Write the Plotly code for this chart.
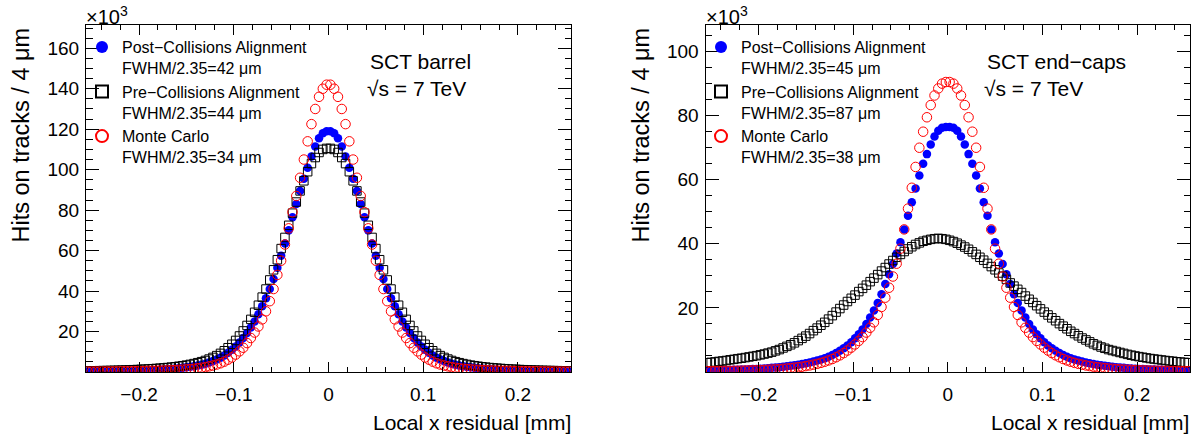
import plotly.graph_objects as go

# ---------------- data (thousands of hits per 4 um bin) ----------------
BIN_LO = -0.256   # mm, lower edge of first bin
BIN_W = 0.004     # mm, 4 um bins
N_BINS = 128
x_centers = [round(BIN_LO + BIN_W * (i + 0.5), 4) for i in range(N_BINS)]

barrel_post = [0.29, 0.31, 0.33, 0.35, 0.37, 0.39, 0.42, 0.45, 0.48, 0.51, 0.55, 0.59, 0.64, 0.69, 0.75, 0.81,
               0.88, 0.96, 1.05, 1.15, 1.26, 1.38, 1.52, 1.67, 1.85, 2.05, 2.3, 2.55, 2.85, 3.2, 3.6, 4.1,
               4.7, 5.4, 6.2, 7.1, 8.2, 9.5, 11, 12.6, 14.6, 16.8, 19.3, 22, 25, 28.5, 32.5, 36.5,
               41, 46, 51.5, 57.5, 63.5, 70, 76.5, 83, 89.5, 95.5, 101, 106.5, 111.5, 115.5, 118, 119,
               119, 118, 115.5, 111.5, 106.5, 101, 95.5, 89.5, 83, 76.5, 70, 63.5, 57.5, 51.5, 46, 41,
               36.5, 32.5, 28.5, 25, 22, 19.3, 16.8, 14.6, 12.6, 11, 9.5, 8.2, 7.1, 6.2, 5.4, 4.7,
               4.1, 3.6, 3.2, 2.85, 2.55, 2.3, 2.05, 1.85, 1.67, 1.52, 1.38, 1.26, 1.15, 1.05, 0.96, 0.88,
               0.81, 0.75, 0.69, 0.64, 0.59, 0.55, 0.51, 0.48, 0.45, 0.42, 0.39, 0.37, 0.35, 0.33, 0.31, 0.29]

barrel_pre = [0.56, 0.59, 0.62, 0.65, 0.69, 0.73, 0.77, 0.82, 0.87, 0.93, 0.99, 1.06, 1.13, 1.21, 1.3, 1.4,
              1.5, 1.62, 1.75, 1.9, 2.05, 2.2, 2.4, 2.6, 2.85, 3.1, 3.4, 3.75, 4.15, 4.6, 5.1, 5.7,
              6.4, 7.2, 8.1, 9.2, 10.5, 12, 13.7, 15.6, 17.8, 20.3, 23, 26, 29.5, 33, 37, 41,
              45.5, 50.5, 55.5, 61, 66.5, 72.5, 78.5, 84, 89.5, 94.5, 99, 103, 106, 108.5, 110, 110.5,
              110.5, 110, 108.5, 106, 103, 99, 94.5, 89.5, 84, 78.5, 72.5, 66.5, 61, 55.5, 50.5, 45.5,
              41, 37, 33, 29.5, 26, 23, 20.3, 17.8, 15.6, 13.7, 12, 10.5, 9.2, 8.1, 7.2, 6.4,
              5.7, 5.1, 4.6, 4.15, 3.75, 3.4, 3.1, 2.85, 2.6, 2.4, 2.2, 2.05, 1.9, 1.75, 1.62, 1.5,
              1.4, 1.3, 1.21, 1.13, 1.06, 0.99, 0.93, 0.87, 0.82, 0.77, 0.73, 0.69, 0.65, 0.62, 0.59, 0.56]

barrel_mc = [0.2, 0.21, 0.22, 0.23, 0.24, 0.26, 0.27, 0.29, 0.31, 0.33, 0.35, 0.37, 0.4, 0.43, 0.46, 0.49,
             0.53, 0.57, 0.62, 0.67, 0.73, 0.8, 0.87, 0.95, 1.05, 1.15, 1.3, 1.45, 1.6, 1.85, 2.1, 2.4,
             2.8, 3.2, 3.7, 4.3, 5.1, 6.1, 7.2, 8.6, 10.2, 12, 14.3, 16.8, 19.5, 22.5, 26, 30,
             35, 41, 48, 55, 63, 71, 79, 87, 96, 105, 114, 122.5, 130, 136, 140, 142,
             142, 140, 136, 130, 122.5, 114, 105, 96, 87, 79, 71, 63, 55, 48, 41, 35,
             30, 26, 22.5, 19.5, 16.8, 14.3, 12, 10.2, 8.6, 7.2, 6.1, 5.1, 4.3, 3.7, 3.2, 2.8,
             2.4, 2.1, 1.85, 1.6, 1.45, 1.3, 1.15, 1.05, 0.95, 0.87, 0.8, 0.73, 0.67, 0.62, 0.57, 0.53,
             0.49, 0.46, 0.43, 0.4, 0.37, 0.35, 0.33, 0.31, 0.29, 0.27, 0.26, 0.24, 0.23, 0.22, 0.21, 0.2]

endcap_post = [0.52, 0.54, 0.56, 0.58, 0.6, 0.63, 0.66, 0.69, 0.73, 0.77, 0.81, 0.86, 0.91, 0.97, 1.04, 1.12,
               1.2, 1.3, 1.4, 1.52, 1.65, 1.8, 1.95, 2.1, 2.3, 2.5, 2.75, 3.0, 3.3, 3.6, 3.9, 4.3,
               4.75, 5.3, 5.9, 6.6, 7.4, 8.3, 9.3, 10.5, 11.8, 13.3, 15, 17, 19.2, 21.5, 24.3, 27.5,
               30.5, 33.7, 37, 40.5, 44.5, 48.8, 53, 57.3, 61.3, 65, 68, 71, 73.5, 75.3, 76.2, 76.5,
               76.5, 76.2, 75.3, 73.5, 71, 68, 65, 61.3, 57.3, 53, 48.8, 44.5, 40.5, 37, 33.7, 30.5,
               27.5, 24.3, 21.5, 19.2, 17, 15, 13.3, 11.8, 10.5, 9.3, 8.3, 7.4, 6.6, 5.9, 5.3, 4.75,
               4.3, 3.9, 3.6, 3.3, 3.0, 2.75, 2.5, 2.3, 2.1, 1.95, 1.8, 1.65, 1.52, 1.4, 1.3, 1.2,
               1.12, 1.04, 0.97, 0.91, 0.86, 0.81, 0.77, 0.73, 0.69, 0.66, 0.63, 0.6, 0.58, 0.56, 0.54, 0.52]

endcap_pre = [2.9, 3.0, 3.15, 3.3, 3.45, 3.6, 3.8, 3.95, 4.15, 4.3, 4.5, 4.7, 4.9, 5.1, 5.35, 5.6,
              5.9, 6.2, 6.6, 7.0, 7.5, 8.0, 8.5, 9.1, 9.8, 10.5, 11.2, 12.0, 12.9, 13.7, 14.6, 15.5,
              16.5, 17.6, 18.7, 19.8, 20.9, 22.0, 23.0, 24.0, 25.1, 26.1, 27.1, 28.2, 29.3, 30.4, 31.5, 32.6,
              33.7, 34.8, 35.8, 36.7, 37.6, 38.4, 39.1, 39.8, 40.3, 40.8, 41.1, 41.4, 41.6, 41.7, 41.6, 41.4,
              41.1, 40.7, 40.2, 39.6, 39.0, 38.3, 37.5, 36.7, 35.8, 34.9, 33.9, 32.9, 31.9, 30.9, 29.9, 28.9,
              27.8, 26.8, 25.8, 24.8, 23.7, 22.7, 21.7, 20.7, 19.7, 18.7, 17.8, 16.9, 16.0, 15.1, 14.3, 13.5,
              12.7, 12.0, 11.3, 10.6, 10.0, 9.4, 8.8, 8.3, 7.8, 7.4, 7.0, 6.7, 6.4, 6.1, 5.8, 5.5,
              5.25, 5.0, 4.8, 4.6, 4.4, 4.2, 4.05, 3.9, 3.75, 3.6, 3.45, 3.35, 3.2, 3.1, 3.0, 2.9]

endcap_mc = [0.27, 0.28, 0.29, 0.3, 0.31, 0.33, 0.35, 0.37, 0.39, 0.41, 0.44, 0.47, 0.51, 0.55, 0.59, 0.64,
             0.7, 0.76, 0.83, 0.91, 1.0, 1.1, 1.22, 1.35, 1.5, 1.65, 1.85, 2.05, 2.3, 2.55, 2.85, 3.2,
             3.6, 4.05, 4.6, 5.2, 5.9, 6.7, 7.6, 8.6, 9.7, 10.9, 12.3, 13.8, 15.5, 17.8, 20.3, 23.2,
             26.3, 29.8, 33.8, 38.5, 44.5, 51, 57.5, 64, 70, 75, 79.5, 83.3, 86.3, 88.5, 90, 90.5,
             90.5, 90, 88.5, 86.3, 83.3, 79.5, 75, 70, 64, 57.5, 51, 44.5, 38.5, 33.8, 29.8, 26.3,
             23.2, 20.3, 17.8, 15.5, 13.8, 12.3, 10.9, 9.7, 8.6, 7.6, 6.7, 5.9, 5.2, 4.6, 4.05, 3.6,
             3.2, 2.85, 2.55, 2.3, 2.05, 1.85, 1.65, 1.5, 1.35, 1.22, 1.1, 1.0, 0.91, 0.83, 0.76, 0.7,
             0.64, 0.59, 0.55, 0.51, 0.47, 0.44, 0.41, 0.39, 0.37, 0.35, 0.33, 0.31, 0.3, 0.29, 0.28, 0.27]

names_barrel = ["Post\u2212Collisions Alignment<br>FWHM/2.35=42 \u03bcm",
                "Pre\u2212Collisions Alignment<br>FWHM/2.35=44 \u03bcm",
                "Monte Carlo<br>FWHM/2.35=34 \u03bcm"]
names_endcap = ["Post\u2212Collisions Alignment<br>FWHM/2.35=45 \u03bcm",
                "Pre\u2212Collisions Alignment<br>FWHM/2.35=87 \u03bcm",
                "Monte Carlo<br>FWHM/2.35=38 \u03bcm"]

x_ticks = [-0.2, -0.1, 0, 0.1, 0.2]
y_ticks_barrel = [20, 40, 60, 80, 100, 120, 140, 160]
y_ticks_endcap = [20, 40, 60, 80, 100]

# ---------------- styling ----------------
FONT = "Liberation Sans, Arial, Helvetica, sans-serif"
W, H = 1204, 437
def px_x(p): return p / W
def px_y(p): return 1 - p / H

styles = [
    dict(symbol="circle", size=8.5, color="#0000ff", line=dict(width=0)),
    dict(symbol="square-open", size=8.5, color="#000000", line=dict(width=1, color="#000000")),
    dict(symbol="circle-open", size=9.5, color="#ff0000", line=dict(width=1, color="#ff0000")),
]

fig = go.Figure()
panels = [
    ("x", "y", "legend", [barrel_post, barrel_pre, barrel_mc], names_barrel),
    ("x2", "y2", "legend2", [endcap_post, endcap_pre, endcap_mc], names_endcap),
]
for xa, ya, lg, series, names in panels:
    for vals, nm, st in zip(series, names, styles):
        fig.add_trace(go.Scatter(x=x_centers, y=vals, mode="markers", name=nm,
                                 marker=st, xaxis=xa, yaxis=ya, legend=lg,
                                 cliponaxis=True))

dom_left = [px_x(86), px_x(571)]
dom_right = [px_x(705.5), px_x(1190)]
dom_y = [px_y(372), px_y(25)]

def xax(domain, anchor):
    return dict(domain=domain, anchor=anchor, range=[-0.256, 0.256],
                tickmode="array", tickvals=x_ticks, ticks="inside", ticklen=10,
                tickcolor="black", tickwidth=1,
                minor=dict(dtick=0.02, tick0=0, ticklen=5, ticks="inside", tickcolor="black", tickwidth=1),
                showline=True, linecolor="black", linewidth=1, mirror="allticks",
                showgrid=False, zeroline=False, ticklabelstandoff=5,
                tickfont=dict(family=FONT, size=19, color="black"))

def yax(domain, anchor, rng, tv):
    return dict(domain=domain, anchor=anchor, range=rng,
                tickmode="array", tickvals=tv, ticks="inside", ticklen=13,
                tickcolor="black", tickwidth=1,
                minor=dict(dtick=5, tick0=0, ticklen=6.5, ticks="inside", tickcolor="black", tickwidth=1),
                showline=True, linecolor="black", linewidth=1, mirror="allticks",
                showgrid=False, zeroline=False, ticklabelstandoff=2,
                tickfont=dict(family=FONT, size=19, color="black"))

legend_common = dict(bgcolor="rgba(0,0,0,0)", borderwidth=0, valign="top",
                     itemsizing="constant",
                     font=dict(family=FONT, size=16, color="black"),
                     xanchor="left", yanchor="top", tracegroupgap=0, itemclick=False)

annotations = []
for (x0, y_title_x, x_right, label, tx) in [(84, 20, 572, "SCT barrel", 368),
                                            (703.5, 640, 1190, "SCT end\u2212caps", 985)]:
    annotations += [
        dict(text="\u00d710<sup>3</sup>", x=px_x(x0), y=px_y(1), xref="paper", yref="paper",
             xanchor="left", yanchor="top", showarrow=False,
             font=dict(family=FONT, size=20, color="black")),
        dict(text=label, x=px_x(tx), y=px_y(62), xref="paper", yref="paper",
             xanchor="left", yanchor="middle", showarrow=False,
             font=dict(family=FONT, size=21, color="black")),
        dict(text="\u221as = 7 TeV", x=px_x(tx - 3), y=px_y(88), xref="paper", yref="paper",
             xanchor="left", yanchor="middle", showarrow=False,
             font=dict(family=FONT, size=21, color="black")),
        dict(text="Local x residual [mm]", x=px_x(x_right + 1), y=px_y(422), xref="paper", yref="paper",
             xanchor="right", yanchor="middle", showarrow=False,
             font=dict(family=FONT, size=21, color="black")),
        dict(text="Hits on tracks / 4 \u03bcm", x=px_x(y_title_x), y=px_y(26), xref="paper", yref="paper",
             xanchor="center", yanchor="top", textangle=-90, showarrow=False,
             font=dict(family=FONT, size=23.5, color="black")),
    ]

fig.update_layout(
    width=W, height=H, autosize=False,
    margin=dict(l=0, r=0, t=0, b=0),
    paper_bgcolor="white", plot_bgcolor="white",
    font=dict(family=FONT, color="black"),
    xaxis=xax(dom_left, "y"),
    yaxis=yax(dom_y, "x", [0, 171.5], y_ticks_barrel),
    xaxis2=xax(dom_right, "y2"),
    yaxis2=yax(dom_y, "x2", [0, 108.3], y_ticks_endcap),
    legend=dict(x=px_x(82), y=px_y(30), **legend_common),
    legend2=dict(x=px_x(701), y=px_y(30), **legend_common),
    annotations=annotations,
    showlegend=True,
)

fig.write_html("out.html", config={"displayModeBar": False},
               post_script="document.body.style.margin='0';document.body.style.padding='0';")
